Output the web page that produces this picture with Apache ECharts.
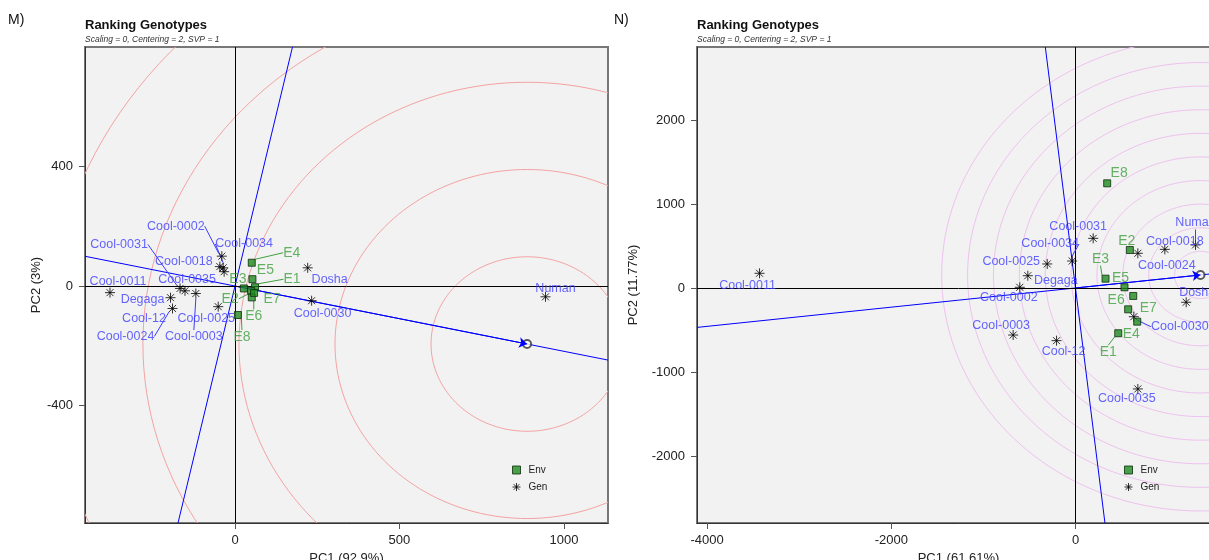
<!DOCTYPE html>
<html>
<head>
<meta charset="utf-8">
<script src="https://cdn.jsdelivr.net/npm/echarts@6/dist/echarts.min.js"></script>
<style>
  html, body { margin: 0; padding: 0; overflow: hidden; background: #ffffff; }
  #chart { width: 1232px; height: 560px; }
</style>
</head>
<body>
<div id="chart"></div>
<script>
// ---------- Panel M : PC1 (92.9%) / PC2 (3%) ----------
const mEnvNames = ['E1', 'E2', 'E3', 'E4', 'E5', 'E6', 'E7', 'E8'];
const mEnvPC1 = [61, 49, 27, 51, 53, 51, 58, 9];
const mEnvPC2 = [-4, -16, -8, 78, 23, -38, -23, -97];
const mGenNames = ['Cool-0002', 'Cool-0018', 'Cool-0034', 'Cool-0035', 'Cool-0031', 'Cool-12', 'Degaga',
  'Cool-0024', 'Cool-0003', 'Cool-0025', 'Cool-0011', 'Dosha', 'Cool-0030', 'Numan'];
const mGenPC1 = [-40, -46, -36, -33, -167, -152, -196, -190, -119, -51, -380, 221, 233, 944];
const mGenPC2 = [100, 65, 61, 48, -8, -16, -39, -75, -25, -69, -22, 61, -49, -36];
const mAverageEnv = [888, -194];
const mCircleRadii = [292, 584, 876, 1168, 1460];
const mXTicks = [0, 500, 1000];
const mYTicks = [-400, 0, 400];

// ---------- Panel N : PC1 (61.61%) / PC2 (11.77%) ----------
const nEnvNames = ['E1', 'E2', 'E3', 'E4', 'E5', 'E6', 'E7', 'E8'];
const nEnvPC1 = [464, 590, 326, 670, 532, 572, 627, 344];
const nEnvPC2 = [-539, 452, 111, -401, 8, -254, -95, 1246];
const nGenNames = ['Cool-0011', 'Cool-0031', 'Cool-0034', 'Cool-0025', 'Degaga', 'Cool-0002', 'Cool-0003',
  'Cool-12', 'Cool-0035', 'Numan', 'Cool-0018', 'Cool-0024', 'Dosha', 'Cool-0030'];
const nGenPC1 = [-3431, 192, -36, -307, -518, -605, -677, -206, 677, 1303, 970, 677, 1202, 633];
const nGenPC2 = [175, 591, 321, 286, 146, 8, -560, -627, -1202, 512, 460, 413, -170, -342];
const nAverageEnv = [1357, 155];
const nCircleRadii = [281, 562, 843, 1124, 1405, 1686, 1967, 2248, 2529, 2810];
const nXTicks = [-4000, -2000, 0];
const nYTicks = [-2000, -1000, 0, 1000, 2000];

// ---------- label placement (pixel offsets of label centre from the point; true = leader line) ----------
const mEnvLabelPos = {
  E1: [37, -8, true], E2: [-21, 8, true], E3: [-6, -9, false], E4: [40, -10, true],
  E5: [13, -9, false], E6: [2, 19, true], E7: [18, 6, false], E8: [4, 22, true]
};
const mGenLabelPos = {
  'Cool-0002': [-46, -30, true], 'Cool-0018': [-36, -5, false], 'Cool-0034': [21, -24, true],
  'Cool-0035': [-37, 8, false], 'Cool-0031': [-61, -44, true], 'Cool-12': [-41, 28, false],
  'Degaga': [-28, 2, false], 'Cool-0024': [-47, 28, true], 'Cool-0003': [-2, 43, true],
  'Cool-0025': [-12, 12, false], 'Cool-0011': [8, -11, false], 'Dosha': [22, 12, false],
  'Cool-0030': [11, 13, false], 'Numan': [10, -8, false]
};
const nEnvLabelPos = {
  E1: [-10, 19, true], E2: [-3, -9, false], E3: [-5, -20, true], E4: [-6, 12, false],
  E5: [-4, -9, false], E6: [-12, -9, false], E7: [15, 12, false], E8: [12, -10, false]
};
const nGenLabelPos = {
  'Cool-0011': [-12, 12, false], 'Cool-0031': [-15, -12, false], 'Cool-0034': [-22, -17, true],
  'Cool-0025': [-36, -2, false], 'Degaga': [28, 5, false], 'Cool-0002': [-11, 10, false],
  'Cool-0003': [-12, -9, false], 'Cool-12': [7, 11, false], 'Cool-0035': [-11, 10, false],
  'Numan': [0, -22, true], 'Cool-0018': [10, -8, false], 'Cool-0024': [29, 12, false],
  'Dosha': [11, -10, false], 'Cool-0030': [46, 10, true]
};

const FONT = '"Liberation Sans", Arial, sans-serif';
const GEN_BLUE = '#3d3dff';
const ENV_GREEN = '#3f9f3f';
const ASTERISK = 'path://M5,0L5,10M0,5L10,5M1.5,1.5L8.5,8.5M8.5,1.5L1.5,8.5';

function panel(k, P) {
  const series = [];

  // concentric rings around the ideal point on the average-environment axis
  series.push({
    type: 'custom', xAxisIndex: k, yAxisIndex: k, clip: true, silent: true, z: 1,
    data: P.radii.map(r => [P.aea[0], P.aea[1], r]),
    renderItem(params, api) {
      const cx = api.value(0), cy = api.value(1), r = api.value(2);
      const pts = [];
      for (let a = 0; a <= 360; a += 2) {
        const t = a * Math.PI / 180;
        pts.push(api.coord([cx + r * Math.cos(t), cy + r * Math.sin(t)]));
      }
      const cs = params.coordSys;
      return {
        type: 'group',
        clipPath: { type: 'rect', shape: { x: cs.x, y: cs.y, width: cs.width, height: cs.height } },
        children: [{ type: 'polyline', shape: { points: pts }, style: { stroke: P.ringColor, fill: null, lineWidth: 1 } }]
      };
    }
  });

  // average-environment axis through the origin, with arrow towards the ideal point
  const s = P.aea[1] / P.aea[0];
  series.push({
    type: 'line', xAxisIndex: k, yAxisIndex: k, z: 3, silent: true, showSymbol: false,
    lineStyle: { color: '#0000ff', width: 1 },
    data: [[P.xMin, s * P.xMin], [P.xMax, s * P.xMax]],
    markLine: {
      silent: true, symbol: ['none', 'arrow'], symbolSize: 8, label: { show: false },
      lineStyle: { color: '#0000ff', width: 1, type: 'solid' },
      data: [[{ coord: [0, 0] }, { coord: P.aea }]]
    }
  });

  // perpendicular axis through the origin, plus the zero reference lines
  const q = -P.aea[1] / P.aea[0];
  series.push({
    type: 'line', xAxisIndex: k, yAxisIndex: k, z: 3, silent: true, showSymbol: false,
    lineStyle: { color: '#0000ff', width: 1 },
    data: [[q * P.yMin, P.yMin], [q * P.yMax, P.yMax]],
    markLine: {
      silent: true, symbol: 'none', label: { show: false },
      lineStyle: { color: '#000000', width: 1, type: 'solid' },
      data: [{ xAxis: 0 }, { yAxis: 0 }]
    }
  });

  // ideal-point marker
  series.push({
    type: 'scatter', xAxisIndex: k, yAxisIndex: k, z: 4, silent: true,
    symbol: 'emptyCircle', symbolSize: 8,
    itemStyle: { color: '#333333', borderWidth: 1 },
    data: [P.aea]
  });

  // environments
  series.push({
    type: 'scatter', name: 'Env', xAxisIndex: k, yAxisIndex: k, z: 6,
    symbol: 'rect', symbolSize: 7,
    itemStyle: { color: '#1f8a1f', borderColor: '#0b300b', borderWidth: 1 },
    emphasis: { disabled: true },
    data: P.envNames.map((n, i) => ({
      name: n, value: [P.envPC1[i], P.envPC2[i]],
      labelLine: { show: P.envLabelPos[n][2] }
    })),
    label: {
      show: true, position: 'inside', formatter: '{b}',
      color: ENV_GREEN, fontSize: 14, fontFamily: FONT
    },
    labelLine: { show: false, lineStyle: { color: ENV_GREEN, width: 1 } },
    labelLayout: (p) => {
      const o = P.envLabelPos[P.envNames[p.dataIndex]];
      return { dx: o[0], dy: o[1] };
    }
  });

  // genotypes
  series.push({
    type: 'scatter', name: 'Gen', xAxisIndex: k, yAxisIndex: k, z: 5,
    symbol: ASTERISK, symbolSize: 10,
    itemStyle: { color: 'rgba(0,0,0,0)', borderColor: '#000000', borderWidth: 1 },
    emphasis: { disabled: true },
    data: P.genNames.map((n, i) => ({
      name: n, value: [P.genPC1[i], P.genPC2[i]],
      labelLine: { show: P.genLabelPos[n][2] }
    })),
    label: {
      show: true, position: 'inside', formatter: '{b}',
      color: GEN_BLUE, fontSize: 12.5, fontFamily: FONT
    },
    labelLine: { show: false, lineStyle: { color: GEN_BLUE, width: 1 } },
    labelLayout: (p) => {
      const o = P.genLabelPos[P.genNames[p.dataIndex]];
      return { dx: o[0], dy: o[1] };
    }
  });

  const grid = {
    left: P.left, top: 47, width: 523, height: 476,
    containLabel: false, outerBoundsMode: 'none',
    show: true, backgroundColor: '#f2f2f2', borderColor: '#777777', borderWidth: 2
  };
  const axisText = { fontSize: 13, color: '#222222', fontFamily: FONT };
  const plain = v => String(v);
  const xAxis = {
    type: 'value', gridIndex: k, min: P.xMin, max: P.xMax,
    splitLine: { show: false },
    axisLine: { show: true, onZero: false, lineStyle: { color: '#333333', width: 1 } },
    axisTick: { show: true, length: 6, customValues: P.xTicks, lineStyle: { color: '#555555' } },
    axisLabel: Object.assign({ customValues: P.xTicks, margin: 11, formatter: plain }, axisText),
    name: P.xName, nameLocation: 'middle', nameGap: 25, nameTextStyle: axisText
  };
  const yAxis = {
    type: 'value', gridIndex: k, min: P.yMin, max: P.yMax,
    splitLine: { show: false },
    axisLine: { show: true, onZero: false, lineStyle: { color: '#333333', width: 1 } },
    axisTick: { show: true, length: 6, customValues: P.yTicks, lineStyle: { color: '#555555' } },
    axisLabel: Object.assign({ customValues: P.yTicks, margin: 12, formatter: plain }, axisText),
    name: P.yName, nameLocation: 'middle', nameGap: P.yNameGap, nameTextStyle: axisText
  };
  const legend = {
    left: P.left + 422, top: 460, orient: 'vertical', selectedMode: false,
    itemWidth: 8, itemHeight: 8, itemGap: 7,
    textStyle: { fontSize: 10, color: '#222222', fontFamily: FONT, padding: [0, 0, 0, 3] },
    data: [
      { name: 'Env', icon: 'rect', itemStyle: { color: '#1f8a1f', borderColor: '#0b300b', borderWidth: 1 } },
      { name: 'Gen', icon: ASTERISK, itemStyle: { color: 'rgba(0,0,0,0)', borderColor: '#000000', borderWidth: 1 } }
    ]
  };
  const titles = [
    { text: P.tag, left: P.tagLeft, top: 13, padding: 0,
      textStyle: { fontSize: 14, fontWeight: 'normal', color: '#111111', fontFamily: FONT } },
    { text: 'Ranking Genotypes', subtext: 'Scaling = 0, Centering = 2, SVP = 1',
      left: P.left, top: 19, padding: 0, itemGap: 3,
      textStyle: { fontSize: 13, fontWeight: 'bold', color: '#111111', fontFamily: FONT },
      subtextStyle: { fontSize: 8.5, fontStyle: 'italic', color: '#333333', fontFamily: FONT } }
  ];
  return { series, grid, xAxis, yAxis, legend, titles };
}

const M = panel(0, {
  left: 85, tag: 'M)', tagLeft: 8,
  xMin: -456, xMax: 1134, yMin: -793, yMax: 800,
  xTicks: mXTicks, yTicks: mYTicks, xName: 'PC1 (92.9%)', yName: 'PC2 (3%)', yNameGap: 40,
  envNames: mEnvNames, envPC1: mEnvPC1, envPC2: mEnvPC2, envLabelPos: mEnvLabelPos,
  genNames: mGenNames, genPC1: mGenPC1, genPC2: mGenPC2, genLabelPos: mGenLabelPos,
  aea: mAverageEnv, radii: mCircleRadii, ringColor: '#f4a3a3'
});
const N = panel(1, {
  left: 697, tag: 'N)', tagLeft: 614,
  xMin: -4110, xMax: 1569, yMin: -2798, yMax: 2869,
  xTicks: nXTicks, yTicks: nYTicks, xName: 'PC1 (61.61%)', yName: 'PC2 (11.77%)', yNameGap: 57,
  envNames: nEnvNames, envPC1: nEnvPC1, envPC2: nEnvPC2, envLabelPos: nEnvLabelPos,
  genNames: nGenNames, genPC1: nGenPC1, genPC2: nGenPC2, genLabelPos: nGenLabelPos,
  aea: nAverageEnv, radii: nCircleRadii, ringColor: '#efc2ef'
});

const chart = echarts.init(document.getElementById('chart'), null, { renderer: 'canvas' });
chart.setOption({
  animation: false,
  backgroundColor: '#ffffff',
  title: M.titles.concat(N.titles),
  legend: [M.legend, N.legend],
  grid: [M.grid, N.grid],
  xAxis: [M.xAxis, N.xAxis],
  yAxis: [M.yAxis, N.yAxis],
  series: M.series.concat(N.series)
});
</script>
</body>
</html>
